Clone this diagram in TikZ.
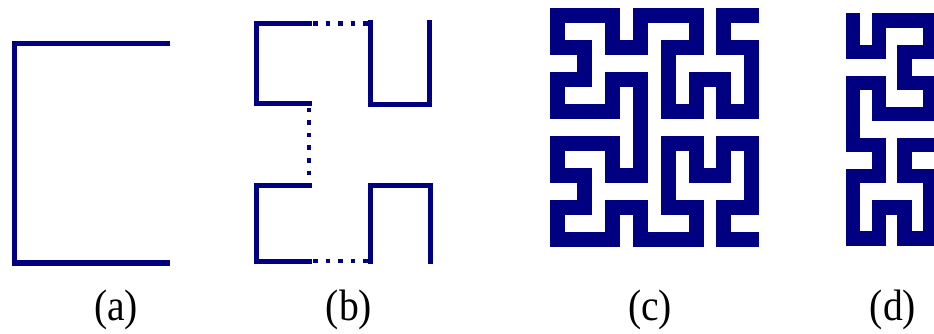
\documentclass[tikz,border=0pt]{standalone}
\usepackage{fontspec}
\setmainfont{Liberation Serif}
\definecolor{hnavy}{RGB}{0,0,128}
\begin{document}
\begin{tikzpicture}[x=1pt,y=-1pt,
  curvea/.style={draw=hnavy,line width=5.5pt,line cap=butt,line join=miter},
  curveb/.style={draw=hnavy,line width=5pt,line cap=butt,line join=miter},
  dotb/.style={draw=hnavy,line width=4.5pt,dash pattern=on 4.5pt off 8pt},
  thickc/.style={draw=hnavy,line width=15pt,line cap=rect,line join=miter},
  thickd/.style={draw=hnavy,line width=14.5pt,line cap=rect,line join=miter},
  lab/.style={inner sep=0pt,anchor=base,font=\fontsize{44}{44}\selectfont}]
\useasboundingbox (0,0) rectangle (934,334);
\clip (0,0) rectangle (934,334);
% (a)
\draw[curvea] (170,43.7) -- (14.3,43.7) -- (14.3,263) -- (170,263);
% (b)
\draw[curveb] (312,103.5) -- (256.5,103.5) -- (256.5,23.5) -- (312,23.5);
\draw[dotb] (313,23.5) -- (368,23.5);
\draw[curveb] (370.5,20) -- (370.5,104.5) -- (429.5,104.5) -- (429.5,20);
\draw[dotb] (309,108) -- (309,177);
\draw[curveb] (312,185.5) -- (256.5,185.5) -- (256.5,261) -- (312,261);
\draw[dotb] (313,261) -- (368,261);
\draw[curveb] (370.5,264) -- (370.5,185.5) -- (430,185.5) -- (430,264);
% (c)
\begin{scope}[shift={(557,15.7)},x=27.8pt,y=-31.9pt]
\draw[thickc] (7,0) -- (6,0) -- (6,1) -- (7,1) -- (7,3) -- (6,3) -- (6,2) -- (5,2)
  -- (5,3) -- (4,3) -- (4,1) -- (5,1) -- (5,0) -- (3,0) -- (3,1) -- (2,1) -- (2,0)
  -- (0,0) -- (0,1) -- (1,1) -- (1,2) -- (0,2) -- (0,3) -- (2,3) -- (2,2) -- (3,2)
  -- (3,5) -- (2,5) -- (2,4) -- (0,4) -- (0,5) -- (1,5) -- (1,6) -- (0,6) -- (0,7)
  -- (2,7) -- (2,6) -- (3,6) -- (3,7) -- (5,7) -- (5,6) -- (4,6) -- (4,4) -- (5,4)
  -- (5,5) -- (6,5) -- (6,4) -- (7,4) -- (7,6) -- (6,6) -- (6,7) -- (7,7);
\end{scope}
% (d)
\begin{scope}[shift={(853,20.7)},x=25.8pt,y=-31.1pt]
\draw[thickd] (0,0) -- (0,1) -- (1,1) -- (1,0) -- (3,0) -- (3,1) -- (2,1) -- (2,2)
  -- (3,2) -- (3,3) -- (1,3) -- (1,2) -- (0,2) -- (0,4) -- (1,4) -- (1,5) -- (0,5)
  -- (0,7) -- (1,7) -- (1,6) -- (2,6) -- (2,7) -- (3,7) -- (3,5) -- (2,5) -- (2,4)
  -- (4,4);
\end{scope}
% labels
\node[lab] (la) at (116,320) {\scalebox{0.9}[1]{(a)}};
\node[lab] (lb) at (349,320) {\scalebox{0.9}[1]{(b)}};
\node[lab] (lc) at (650,320) {\scalebox{0.9}[1]{(c)}};
\node[lab] (ld) at (893,320) {\scalebox{0.9}[1]{(d)}};
\end{tikzpicture}
\end{document}
